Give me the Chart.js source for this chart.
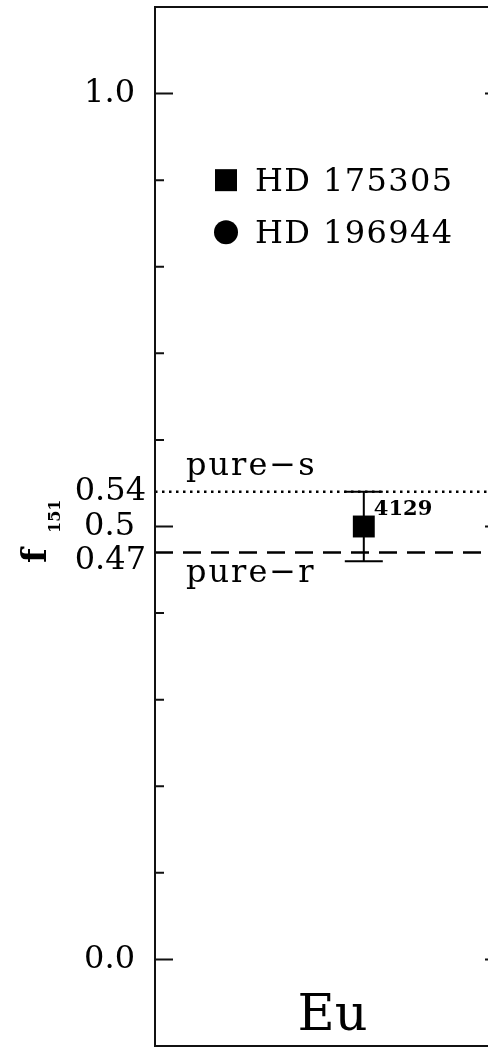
<!DOCTYPE html>
<html>
<head>
<meta charset="utf-8">
<script src="https://cdn.jsdelivr.net/npm/chart.js@4"></script>
<style>
  html, body { margin: 0; padding: 0; background: #fff; overflow: hidden; }
  #wrap { width: 488px; height: 1047px; overflow: hidden; }
</style>
</head>
<body>
<div id="wrap"><canvas id="grafico" width="512" height="1047"></canvas></div>
<script>
// dados
const elements = ['Eu']
const elementX = [0.51]
const starNames = ['HD 175305', 'HD 196944']
const starIds = ['4129']
const pointX = [0.6]
const f151 = [0.5]
const errLow = [0.46]
const errHigh = [0.54]
const pureS = 0.54
const pureR = 0.47
const yTickValues = [0, 0.47, 0.5, 0.54, 1.0]
const yTickLabels = ['0.0', '0.47', '0.5', '0.54', '1.0']
const majorTicks = [0, 0.5, 1.0]
const minorTicks = [0.1, 0.2, 0.3, 0.4, 0.6, 0.7, 0.8, 0.9]

const serif = '"DejaVu Serif", serif'

Chart.defaults.color = '#000'
Chart.defaults.font.family = serif

// moldura, marcas internas, barras de erro, textos
const extras = {
  id: 'extras',
  beforeDatasetsDraw(chart) {
    const { ctx } = chart
    const x = chart.scales.x, y = chart.scales.y
    ctx.save()
    ctx.strokeStyle = '#000'
    ctx.lineWidth = 2
    pointX.forEach((px, i) => {
      const cx = x.getPixelForValue(px)
      const top = y.getPixelForValue(errHigh[i])
      const bot = y.getPixelForValue(errLow[i])
      ctx.beginPath()
      ctx.moveTo(cx, top); ctx.lineTo(cx, bot)
      ctx.moveTo(cx - 19, top); ctx.lineTo(cx + 19, top)
      ctx.moveTo(cx - 19, bot); ctx.lineTo(cx + 19, bot)
      ctx.stroke()
    })
    ctx.restore()
  },
  afterDraw(chart) {
    const { ctx, chartArea: a } = chart
    const x = chart.scales.x, y = chart.scales.y
    ctx.save()
    ctx.strokeStyle = '#111'
    ctx.lineWidth = 2
    ctx.strokeRect(a.left, a.top, a.right - a.left, a.bottom - a.top)

    ctx.beginPath()
    majorTicks.forEach(v => {
      const py = y.getPixelForValue(v)
      ctx.moveTo(a.left, py); ctx.lineTo(a.left + 18, py)
      ctx.moveTo(a.right, py); ctx.lineTo(a.right - 18, py)
    })
    minorTicks.forEach(v => {
      const py = y.getPixelForValue(v)
      ctx.moveTo(a.left, py); ctx.lineTo(a.left + 9, py)
      ctx.moveTo(a.right, py); ctx.lineTo(a.right - 9, py)
    })
    ctx.stroke()

    ctx.fillStyle = '#000'

    // rótulos do eixo y (0.54 e 0.47 ficam um pouco deslocados, como no original)
    ctx.font = '32px ' + serif
    ctx.textAlign = 'right'
    ctx.textBaseline = 'middle'
    yTickValues.forEach((v, i) => {
      const lab = yTickLabels[i]
      const shifted = lab.length > 3
      const dy = v === pureR ? 8 : 0
      ctx.fillText(lab, a.left - (shifted ? 9 : 20), y.getPixelForValue(v) + dy)
    })

    ctx.textBaseline = 'alphabetic'
    ctx.textAlign = 'left'

    // rótulos das linhas
    ctx.letterSpacing = '2px'
    ctx.fillText('pure\u2212s', a.left + 31, y.getPixelForValue(pureS) - 17)
    ctx.fillText('pure\u2212r', a.left + 31, y.getPixelForValue(pureR) + 30)
    ctx.letterSpacing = '0px'

    // id da estrela
    ctx.font = 'bold 21px ' + serif
    pointX.forEach((px, i) => {
      ctx.fillText(starIds[i], x.getPixelForValue(px) + 10, y.getPixelForValue(f151[i]) - 12)
    })

    // elemento
    ctx.font = '51px ' + serif
    ctx.textAlign = 'center'
    elements.forEach((el, i) => {
      ctx.fillText(el, x.getPixelForValue(elementX[i]), a.bottom - 16)
    })

    // legenda
    ctx.textAlign = 'left'
    ctx.font = '32px ' + serif
    ctx.letterSpacing = '1.4px'
    const ds = chart.data.datasets.filter(d => d.inLegend)
    ds.forEach((d, i) => {
      const ly = y.getPixelForValue(0.9) + i * 52
      const lx = a.left + 71
      if (d.pointStyle === 'rect') {
        ctx.fillRect(lx - 11, ly - 11, 22, 22)
      } else {
        ctx.beginPath()
        ctx.arc(lx, ly, 12, 0, Math.PI * 2)
        ctx.fill()
      }
      ctx.fillText(d.label, lx + 29, ly + 11)
    })
    ctx.letterSpacing = '0px'

    // título do eixo y
    ctx.save()
    ctx.translate(46, 563)
    ctx.rotate(-Math.PI / 2)
    ctx.font = 'bold 34px ' + serif
    ctx.fillText('f', 0, 0)
    ctx.font = 'bold 16px ' + serif
    ctx.fillText('151', 30, 14)
    ctx.restore()

    ctx.restore()
  }
}

const data = {
  datasets: [
    {
      label: starNames[0],
      inLegend: true,
      data: pointX.map((px, i) => ({ x: px, y: f151[i] })),
      pointStyle: 'rect',
      pointRadius: 15.5,
      backgroundColor: '#000',
      borderColor: '#000',
      borderWidth: 0
    },
    {
      label: starNames[1],
      inLegend: true,
      data: [],
      pointStyle: 'circle',
      pointRadius: 12,
      backgroundColor: '#000'
    },
    {
      type: 'line',
      label: 'pure-s',
      data: [{ x: 0, y: pureS }, { x: 1, y: pureS }],
      showLine: true,
      borderColor: '#000',
      borderWidth: 2.5,
      borderDash: [2.5, 4.5],
      pointRadius: 0
    },
    {
      type: 'line',
      label: 'pure-r',
      data: [{ x: 0, y: pureR }, { x: 1, y: pureR }],
      showLine: true,
      borderColor: '#000',
      borderWidth: 2.5,
      borderDash: [18, 10],
      pointRadius: 0
    }
  ]
}

const config = {
  type: 'scatter',
  data,
  options: {
    responsive: false,
    animation: false,
    devicePixelRatio: 1,
    layout: { autoPadding: false, padding: { top: 7, bottom: 1, right: 9, left: 155 } },
    plugins: { legend: { display: false }, tooltip: { enabled: false } },
    scales: {
      x: { type: 'linear', min: 0, max: 1, display: false },
      y: { type: 'linear', min: -0.1, max: 1.1, display: false }
    }
  },
  plugins: [extras]
}

const graph = new Chart(document.getElementById('grafico'), config)
</script>
</body>
</html>
